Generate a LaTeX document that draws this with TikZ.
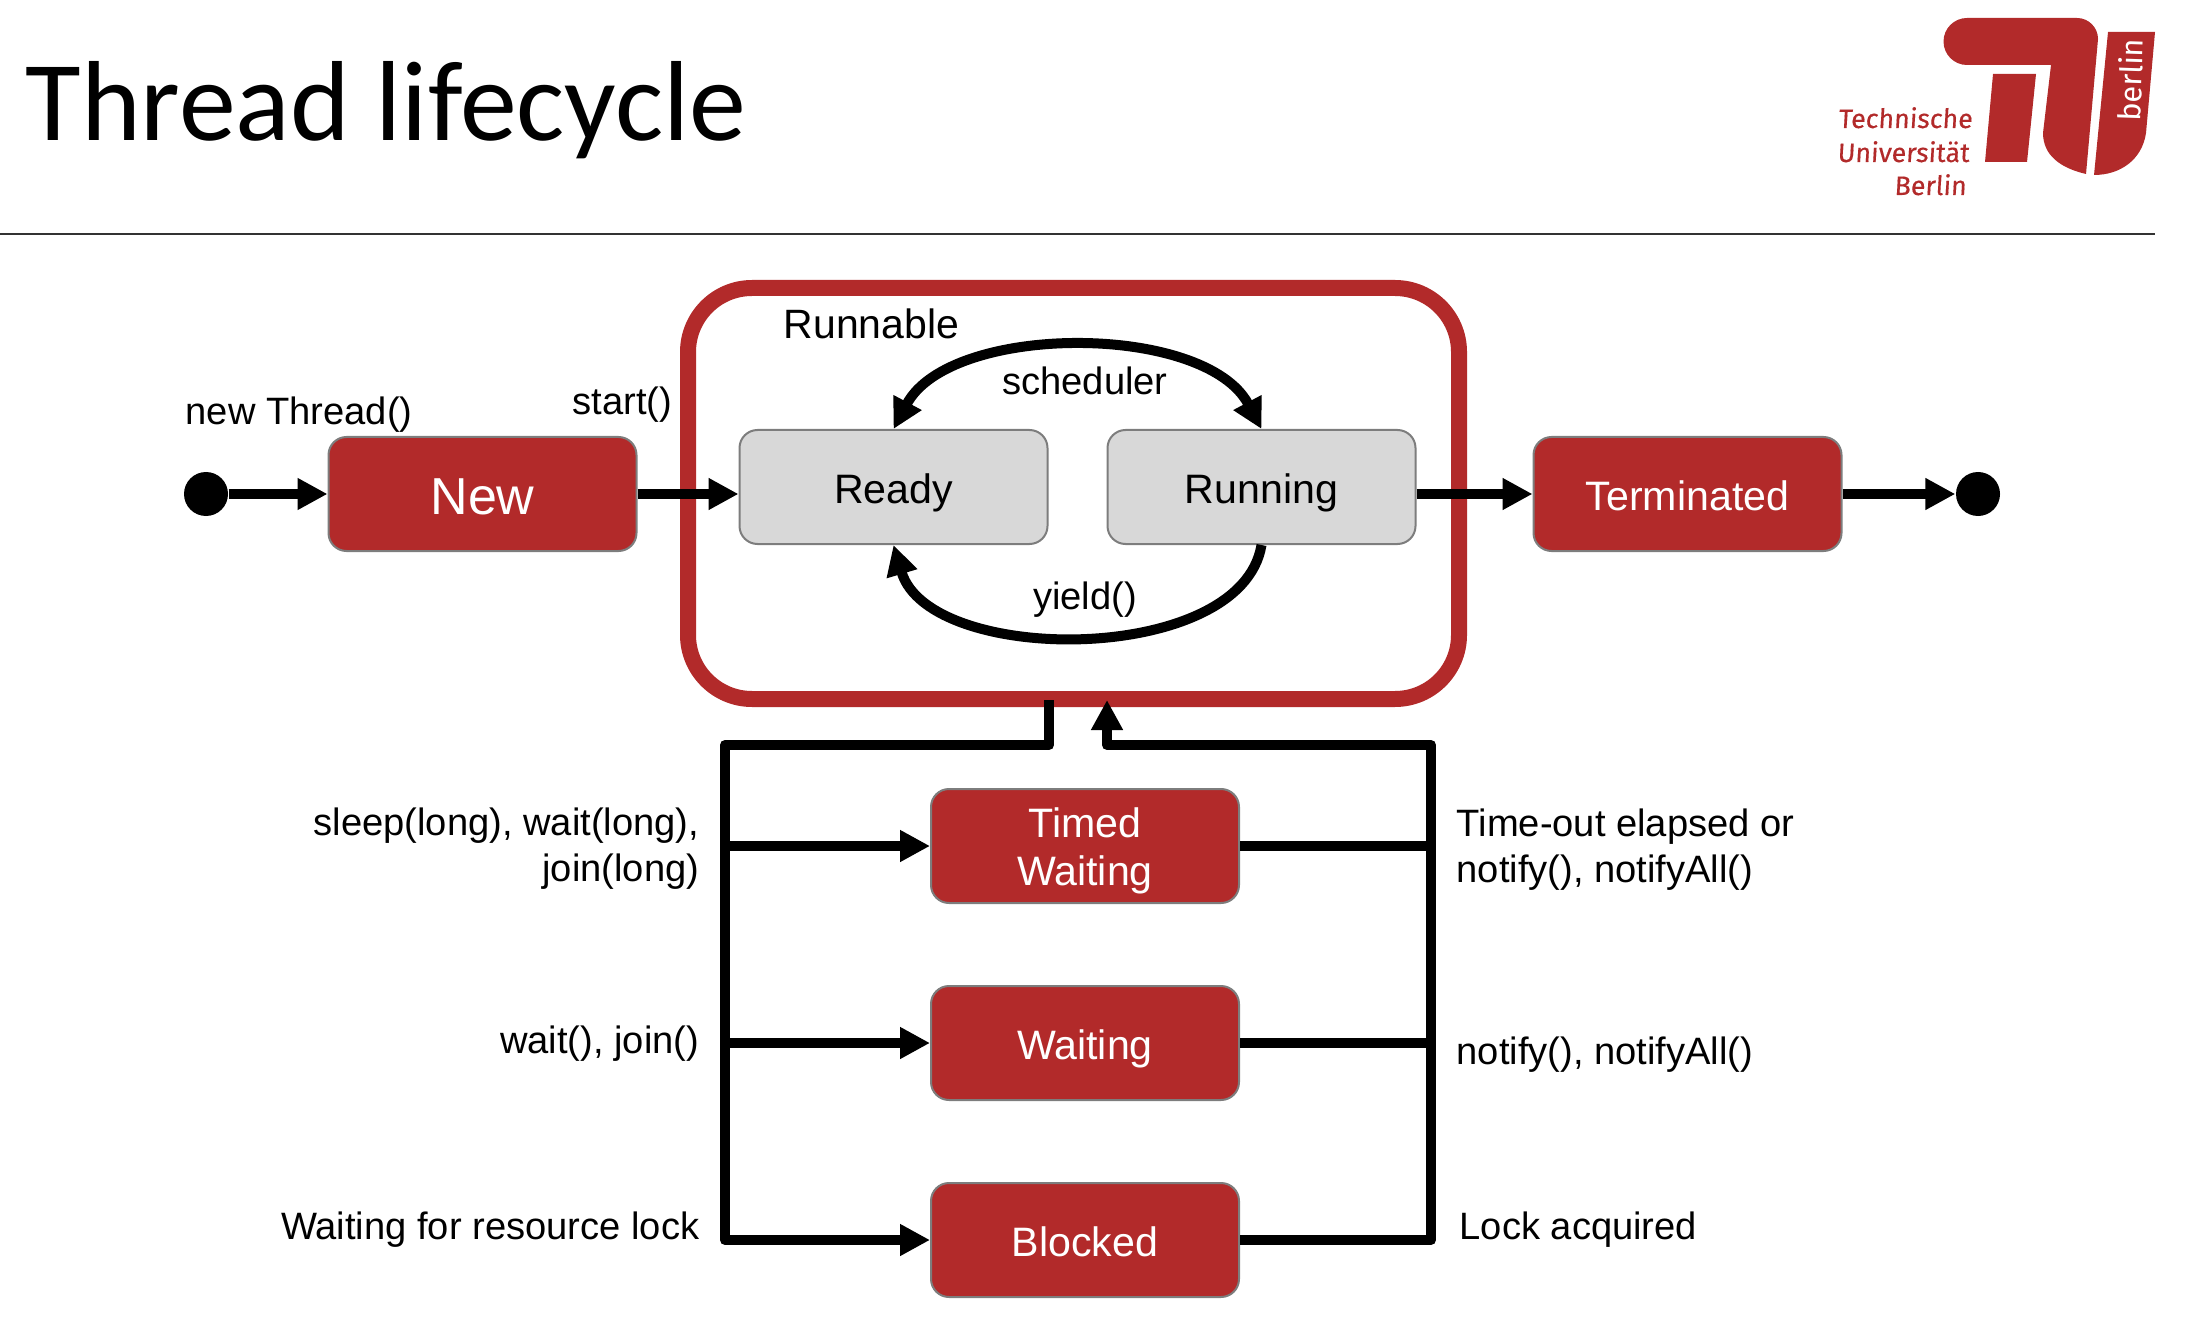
\documentclass[tikz,border=0pt]{standalone}
\usepackage{fontspec}
\setmainfont{Liberation Sans}
\newfontfamily\titlefont{Carlito}
\newfontfamily\tufont[FakeBold=.35,FakeSlant=.06]{Fira Sans}
\newfontfamily\tuside{Fira Sans}
\usetikzlibrary{arrows.meta}
\definecolor{tured}{RGB}{178,42,42}
\definecolor{boxgray}{RGB}{216,216,216}
\definecolor{boxline}{RGB}{125,125,125}
\begin{document}
\begin{tikzpicture}[
  every node/.style={font=\fontsize{10.85}{13}\selectfont},
  state/.style={draw=boxline, line width=.02cm, rounded corners=.18cm, minimum width=3.08cm,
    minimum height=1.14cm, align=center, font=\fontsize{11.7}{13.8}\selectfont},
  flat/.style={text height=.33cm, text depth=0pt},
  redstate/.style={state, fill=tured, text=white},
  graystate/.style={state, fill=boxgray, flat},
  dot/.style={circle, fill=black, inner sep=0pt, minimum size=.44cm},
  flow/.style={line width=.1cm, line join=round, -{Triangle[length=.3cm,width=.3cm]}},
  plainflow/.style={line width=.1cm, line join=round},
  lbl/.style={anchor=base west, inner sep=0pt},
  lblr/.style={anchor=base east, inner sep=0pt},
  tulbl/.style={anchor=base east, inner sep=0pt, text=tured, font=\tufont\fontsize{7.6}{9}\selectfont}]
  \useasboundingbox (0,0) rectangle (21.94,-13.40);

  \node[lbl, font=\titlefont\fontsize{32.4}{36}\selectfont] (title) at (.25,-1.41) {Thread lifecycle};
  \coordinate (ruleL) at (0,-2.34);
  \coordinate (ruleR) at (21.55,-2.34);
  \draw[line width=.025cm, black!80] (ruleL) -- (ruleR);

  \fill[tured] (19.67,-.18) -- (20.77,-.18) arc[start angle=90, end angle=0, radius=.21]
    -- (20.86,-1.74) .. controls (20.60,-1.68) and (20.43,-1.55) .. (20.43,-1.33)
    -- (20.51,-.65) -- (19.67,-.65) arc[start angle=270, end angle=90, radius=.235] -- cycle;
  \fill[tured] (19.93,-.74) -- (20.36,-.74) -- (20.27,-1.62) -- (19.85,-1.62) -- cycle;
  \fill[tured] (21.08,-.32) -- (21.55,-.32) -- (21.46,-1.33)
    .. controls (21.42,-1.60) and (21.20,-1.75) .. (20.94,-1.75) -- cycle;
  \node[inner sep=0pt, text=white, rotate=88, font=\tuside\fontsize{8.8}{11}\selectfont] (tuside) at (21.30,-.80) {berlin};
  \node[tulbl] (tu1) at (19.73,-1.28) {Technische};
  \node[tulbl] (tu2) at (19.70,-1.62) {Universität};
  \node[tulbl] (tu3) at (19.67,-1.95) {Berlin};

  \node[draw=tured, line width=.16cm, rounded corners=.64cm, minimum width=7.71cm, minimum height=4.11cm] (runnable) at (10.735,-4.935) {};
  \node[lbl, font=\fontsize{11.66}{14}\selectfont] (runnablelbl) at (7.83,-3.39) {Runnable};

  \node[dot] (start) at (2.06,-4.94) {};
  \node[redstate, flat, text height=.40cm, font=\fontsize{14.8}{17}\selectfont] (new) at (4.825,-4.94) {New};
  \node[graystate] (ready) at (8.935,-4.87) {Ready};
  \node[graystate] (running) at (12.615,-4.87) {Running};
  \node[redstate, flat] (terminated) at (16.875,-4.94) {Terminated};
  \node[dot] (end) at (19.78,-4.94) {};

  \node[redstate, inner ysep=0pt] (timed) at (10.85,-8.46) {\rule{0pt}{.4cm}Timed\\Waiting};
  \node[redstate, flat] (waiting) at (10.85,-10.43) {Waiting};
  \node[redstate, flat] (blocked) at (10.85,-12.40) {Blocked};

  \node[lbl] (newlbl) at (1.85,-4.25) {new Thread()};
  \node[lbl] (startlbl) at (5.72,-4.15) {start()};
  \node[anchor=base, inner sep=0pt] (schedlbl) at (10.85,-3.95) {scheduler};
  \node[anchor=base, inner sep=0pt] (yieldlbl) at (10.85,-6.09) {yield()};

  \node[lblr] (sleeplbl) at (7.00,-8.35) {sleep(long), wait(long),};
  \node[lblr] (joinlbl) at (7.00,-8.81) {join(long)};
  \node[lblr] (waitlbl) at (7.00,-10.53) {wait(), join()};
  \node[lblr] (locklbl) at (7.00,-12.39) {Waiting for resource lock};
  \node[lbl] (timeoutlbl) at (14.56,-8.36) {Time-out elapsed or};
  \node[lbl] (notifylbl) at (14.56,-8.82) {notify(), notifyAll()};
  \node[lbl] (notifylblb) at (14.56,-10.64) {notify(), notifyAll()};
  \node[lbl] (acquiredlbl) at (14.59,-12.39) {Lock acquired};

  \coordinate (outleft) at (10.49,-7.00);
  \coordinate (inright) at (11.07,-7.00);
  \coordinate (busleft) at (7.25,-7.45);
  \coordinate (busright) at (14.31,-7.45);

  \draw[flow] (start) -- (new);
  \draw[flow] (new.east) -- (ready.west |- new.east);
  \draw[flow] (running.east |- terminated.west) -- (terminated.west);
  \draw[flow] (terminated) -- (end);

  \draw[flow, {Triangle[length=.3cm,width=.3cm]}-{Triangle[length=.3cm,width=.3cm]}] (ready.north) to[out=62, in=118, looseness=.84] (running.north);
  \draw[flow] (running.south) .. controls +(-.2,-1.21) and +(.36,-1.21) .. (ready.south);

  \draw[flow] (outleft) |- (busleft) |- (blocked.west);
  \draw[flow] (busleft |- timed.west) -- (timed.west);
  \draw[flow] (busleft |- waiting.west) -- (waiting.west);
  \draw[flow] (blocked.east) -| (busright) -| (inright);
  \draw[plainflow] (timed.east) -- (busright |- timed.east);
  \draw[plainflow] (waiting.east) -- (busright |- waiting.east);
\end{tikzpicture}
\end{document}
